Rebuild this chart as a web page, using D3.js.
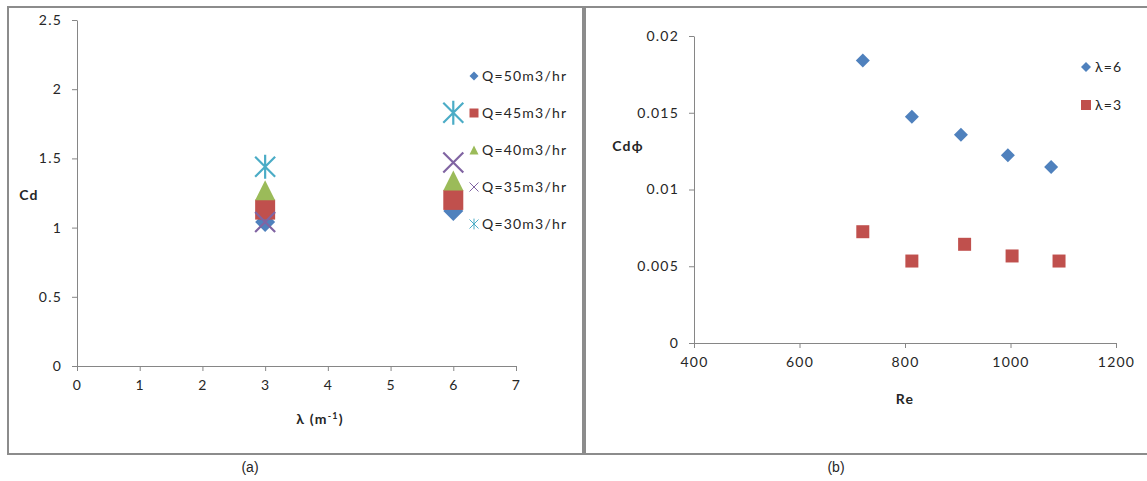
<!DOCTYPE html>
<html>
<head>
<meta charset="utf-8">
<script src="https://cdn.jsdelivr.net/npm/d3@7"></script>
<style>
  body { margin: 0; background: #fff; }
  text { font-family: Lato, "Open Sans", sans-serif; fill: #262626; letter-spacing: 1.2px; }
</style>
</head>
<body>
<div id="chart"></div>
<script>
// panel (a): Cd against lambda for five flow rates
var lambdas = [3, 6];
var seriesA = [
  { name: "Q=50m3/hr", shape: "diamond",  color: "#4f81bd", values: [1.04, 1.12] },
  { name: "Q=45m3/hr", shape: "square",   color: "#c0504d", values: [1.13, 1.20] },
  { name: "Q=40m3/hr", shape: "triangle", color: "#9bbb59", values: [1.27, 1.34] },
  { name: "Q=35m3/hr", shape: "x",        color: "#8064a2", values: [1.04, 1.47] },
  { name: "Q=30m3/hr", shape: "star",     color: "#4bacc6", values: [1.44, 1.83] }
];
var xTicksA = [0, 1, 2, 3, 4, 5, 6, 7];
var yTicksA = [0, 0.5, 1, 1.5, 2, 2.5];

// panel (b): Cd*phi against Re
var reSix = [720, 813, 906, 995, 1077];
var cdSix = [0.0184, 0.01474, 0.01357, 0.01223, 0.01147];
var reThree = [720, 813, 913, 1003, 1092];
var cdThree = [0.00725, 0.00534, 0.00643, 0.00567, 0.00534];
var xTicksB = [400, 600, 800, 1000, 1200];
var yTicksB = [0, 0.005, 0.01, 0.015, 0.02];

var axisColor = "#868686";

var svg = d3.select("#chart").append("svg")
  .attr("width", 1147).attr("height", 481);

// frames
svg.append("rect").attr("x", 8).attr("y", 7).attr("width", 575).attr("height", 447)
  .attr("fill", "none").attr("stroke", "#8c8c8c").attr("stroke-width", 2);
svg.append("rect").attr("x", 585).attr("y", 7).attr("width", 570).attr("height", 447)
  .attr("fill", "none").attr("stroke", "#8c8c8c").attr("stroke-width", 2);

// marker path centred on 0,0 with half size r
function marker(shape, r) {
  if (shape == "diamond") return "M0," + (-r) + "L" + r + ",0L0," + r + "L" + (-r) + ",0Z";
  if (shape == "square") return "M" + (-r) + "," + (-r) + "h" + 2 * r + "v" + 2 * r + "h" + (-2 * r) + "Z";
  if (shape == "triangle") return "M0," + (-r) + "L" + r + "," + r + "L" + (-r) + "," + r + "Z";
  if (shape == "x") return "M" + (-r) + "," + (-r) + "L" + r + "," + r + "M" + r + "," + (-r) + "L" + (-r) + "," + r;
  // star: x plus a vertical line
  return "M" + (-r) + "," + (-r) + "L" + r + "," + r + "M" + r + "," + (-r) + "L" + (-r) + "," + r +
         "M0," + (-r * 1.2) + "L0," + (r * 1.2);
}

function drawMarker(g, shape, color, x, y, r, lw) {
  var p = g.append("path")
    .attr("d", marker(shape, r))
    .attr("transform", "translate(" + x + "," + y + ")");
  if (shape == "x" || shape == "star") {
    p.attr("fill", "none").attr("stroke", color).attr("stroke-width", lw);
  } else {
    p.attr("fill", color);
  }
}

function styleAxis(g) {
  g.selectAll("path, line").attr("stroke", axisColor);
  g.selectAll("text").attr("fill", "#262626")
    .style("font-family", "Lato, 'Open Sans', sans-serif").style("font-size", "14px");
}

// ---------- panel (a)
var xA = d3.scaleLinear().domain([0, 7]).range([77, 516]);
var yA = d3.scaleLinear().domain([0, 2.5]).range([366, 20]);

svg.append("g").attr("transform", "translate(0,366)")
  .call(d3.axisBottom(xA).tickValues(xTicksA).tickSize(5).tickSizeOuter(0).tickPadding(9).tickFormat(String))
  .call(styleAxis);
svg.append("g").attr("transform", "translate(77,0)")
  .call(d3.axisLeft(yA).tickValues(yTicksA).tickSize(5).tickSizeOuter(0).tickPadding(10).tickFormat(String))
  .call(styleAxis);

svg.append("text").attr("x", 29).attr("y", 200).attr("text-anchor", "middle")
  .attr("font-size", 14).attr("font-weight", "bold").text("Cd");
var xt = svg.append("text").attr("x", 320).attr("y", 424).attr("text-anchor", "middle")
  .attr("font-size", 14).attr("font-weight", "bold");
xt.append("tspan").text("λ (m");
xt.append("tspan").attr("font-size", 9).attr("dy", -5).text("-1");
xt.append("tspan").attr("dy", 5).text(")");

var gA = svg.append("g");
seriesA.forEach(function(s) {
  s.values.forEach(function(v, i) {
    drawMarker(gA, s.shape, s.color, xA(lambdas[i]), yA(v), 10, 2.2);
  });
});

var legA = svg.append("g");
seriesA.forEach(function(s, i) {
  var y = 76 + i * 37;
  drawMarker(legA, s.shape, s.color, 474, y, 4.5, 1);
  legA.append("text").attr("x", 482).attr("y", y + 5).attr("font-size", 14).text(s.name);
});

// ---------- panel (b)
var xB = d3.scaleLinear().domain([400, 1200]).range([694, 1116]);
var yB = d3.scaleLinear().domain([0, 0.02]).range([343, 36]);

svg.append("g").attr("transform", "translate(0,343)")
  .call(d3.axisBottom(xB).tickValues(xTicksB).tickSize(5).tickSizeOuter(0).tickPadding(9).tickFormat(String))
  .call(styleAxis);
svg.append("g").attr("transform", "translate(694,0)")
  .call(d3.axisLeft(yB).tickValues(yTicksB).tickSize(5).tickSizeOuter(0).tickPadding(10).tickFormat(String))
  .call(styleAxis);

svg.append("text").attr("x", 628).attr("y", 151).attr("text-anchor", "middle")
  .attr("font-size", 14).attr("font-weight", "bold").text("Cdϕ");
svg.append("text").attr("x", 905).attr("y", 404).attr("text-anchor", "middle")
  .attr("font-size", 14).attr("font-weight", "bold").text("Re");

var gB = svg.append("g");
reSix.forEach(function(re, i) {
  drawMarker(gB, "diamond", "#4f81bd", xB(re), yB(cdSix[i]), 7, 1);
});
reThree.forEach(function(re, i) {
  drawMarker(gB, "square", "#c0504d", xB(re), yB(cdThree[i]), 6.5, 1);
});

var legB = svg.append("g");
drawMarker(legB, "diamond", "#4f81bd", 1086, 67, 5, 1);
legB.append("text").attr("x", 1095).attr("y", 72).attr("font-size", 14).text("λ=6");
drawMarker(legB, "square", "#c0504d", 1086, 105, 5, 1);
legB.append("text").attr("x", 1095).attr("y", 110).attr("font-size", 14).text("λ=3");

// captions
svg.append("text").attr("x", 250).attr("y", 472).attr("text-anchor", "middle")
  .style("font-family", "'Liberation Sans', Arial, sans-serif").style("letter-spacing", "0px")
  .attr("font-size", 14).attr("fill", "#000").text("(a)");
svg.append("text").attr("x", 836).attr("y", 472).attr("text-anchor", "middle")
  .style("font-family", "'Liberation Sans', Arial, sans-serif").style("letter-spacing", "0px")
  .attr("font-size", 14).attr("fill", "#000").text("(b)");
</script>
</body>
</html>
